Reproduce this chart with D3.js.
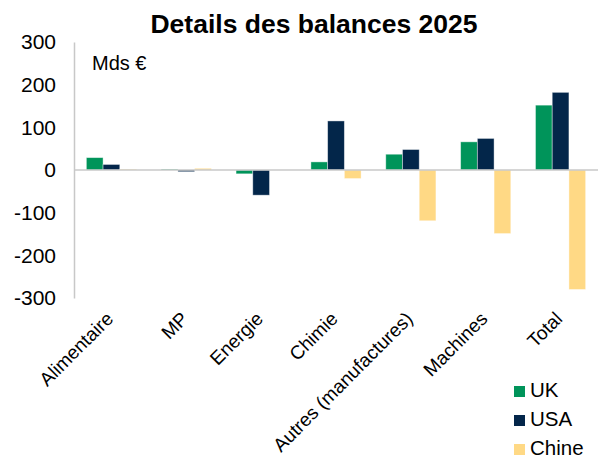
<!DOCTYPE html>
<html>
<head>
  <script src="https://d3js.org/d3.v7.min.js"></script>
  <style>
    body { margin: 0; background: #fff; }
    text { font-family: "Liberation Sans", Arial, sans-serif; fill: #000; }
  </style>
</head>
<body>
  <svg id="root" width="601" height="457"></svg>
  <script>
    var categories = ['Alimentaire', 'MP', 'Energie', 'Chimie', 'Autres (manufactures)', 'Machines', 'Total'];
    var seriesNames = ['UK', 'USA', 'Chine'];
    var uk = [29, 2, -9, 19, 37, 66, 152];
    var usa = [13, -4, -59, 115, 48, 74, 182];
    var chine = [2, 4, 0, -20, -119, -149, -280];
    var colors = ['#00945a', '#03264a', '#ffd985'];
    var yTicks = [300, 200, 100, 0, -100, -200, -300];

    var series = [uk, usa, chine];
    var svg = d3.select('#root');

    var x = d3.scaleBand().domain(categories).range([74, 598]).paddingInner(0.33).paddingOuter(0.165);
    var xs = d3.scaleBand().domain(seriesNames).range([0, x.bandwidth()]);
    var y = d3.scaleLinear().domain([-300, 300]).range([298, 42]);

    // y axis, plain hyphen for negatives
    var yAxis = svg.append('g')
      .attr('transform', 'translate(74,0)')
      .call(d3.axisLeft(y).tickValues(yTicks).tickSize(0).tickPadding(18)
        .tickFormat(function (d) { return String(d); }));
    yAxis.select('.domain').attr('stroke', '#c8c8c8').attr('stroke-width', 1.5);
    yAxis.selectAll('text')
      .attr('font-size', 21)
      .attr('fill', '#000')
      .attr('font-family', '"Liberation Sans", Arial, sans-serif');

    // bars
    var groups = svg.selectAll('.grp')
      .data(categories)
      .enter()
      .append('g')
      .attr('class', 'grp')
      .attr('transform', function (d) { return 'translate(' + x(d) + ',0)'; });

    groups.selectAll('rect')
      .data(function (d, i) {
        return seriesNames.map(function (s, j) { return { s: s, v: series[j][i], c: colors[j] }; });
      })
      .enter()
      .append('rect')
      .attr('x', function (d) { return xs(d.s); })
      .attr('width', xs.bandwidth())
      .attr('y', function (d) { return y(Math.max(0, d.v)); })
      .attr('height', function (d) { return Math.abs(y(d.v) - y(0)); })
      .attr('fill', function (d) { return d.c; })
      .attr('stroke', '#ffffff')
      .attr('stroke-opacity', 0.5)
      .attr('stroke-width', 0.8);

    // zero line
    svg.append('line')
      .attr('x1', 74).attr('x2', 598)
      .attr('y1', y(0)).attr('y2', y(0))
      .attr('stroke', '#c8c8c8').attr('stroke-width', 1.5);

    // x labels
    svg.append('g').selectAll('text')
      .data(categories)
      .enter()
      .append('text')
      .attr('transform', function (d) {
        return 'translate(' + (x(d) + x.bandwidth() / 2 + 3) + ',320) rotate(-45)';
      })
      .attr('text-anchor', 'end')
      .attr('font-size', 19)
      .text(function (d) { return d; });

    // title
    svg.append('text')
      .attr('x', 314).attr('y', 33)
      .attr('text-anchor', 'middle')
      .attr('font-size', 26.5).attr('font-weight', 'bold')
      .text('Details des balances 2025');

    svg.append('text')
      .attr('x', 92).attr('y', 70)
      .attr('font-size', 20)
      .text('Mds €');

    // legend
    var leg = svg.append('g').selectAll('g')
      .data(seriesNames)
      .enter()
      .append('g')
      .attr('transform', function (d, i) { return 'translate(514,' + (386 + i * 29) + ')'; });
    leg.append('rect')
      .attr('width', 11).attr('height', 11)
      .attr('fill', function (d, i) { return colors[i]; });
    leg.append('text')
      .attr('x', 16).attr('y', 11)
      .attr('font-size', 20.5)
      .text(function (d) { return d; });
  </script>
</body>
</html>
